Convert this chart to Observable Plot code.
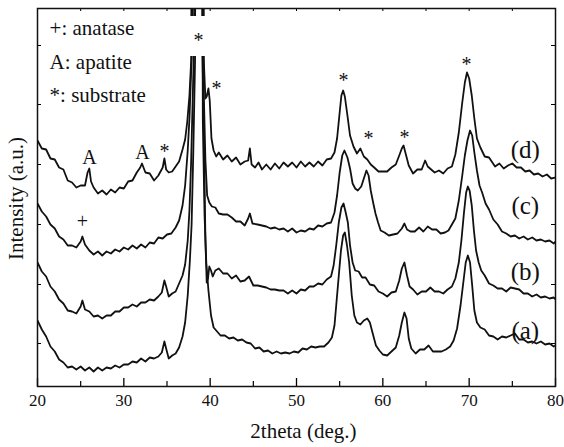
<!DOCTYPE html>
<html><head><meta charset="utf-8">
<script src="https://cdn.jsdelivr.net/npm/d3@7"></script>
<script src="https://cdn.jsdelivr.net/npm/@observablehq/plot@0.6"></script>
<style>
body{margin:0;background:#fff}
#chart svg, #chart svg text{font-family:"Liberation Serif","Times New Roman",serif !important;}
</style>
</head><body><div id="chart"></div>
<script>
// 2theta (deg.) vs intensity (a.u., stacked offsets as drawn)
const traceD = [[20,246],[20.5,238],[21,237],[21.5,228],[22,227],[22.5,219],[23,217],[23.5,206],[24,204],[24.5,199],[25,201],[25.5,201],[25.8,214],[26,218],[26.2,205],[26.5,199],[27,193],[27.5,196],[28,192],[28.5,197],[29,194],[29.5,199],[30,198],[30.5,205],[31,206],[31.5,214],[31.9,219],[32.1,223],[32.5,214],[33,213],[33.5,206],[34,211],[34.5,219],[34.7,228],[34.9,217],[35.2,214],[35.6,215],[36,220],[36.4,225],[36.8,237],[37.1,247],[37.35,265],[37.6,291],[37.8,326],[38.6,2500],[39.25,328],[39.45,288],[39.6,290],[39.8,298],[39.95,286],[40.15,248],[40.4,236],[40.7,230],[41,234],[41.5,227],[42,231],[42.5,225],[43,229],[43.5,222],[44,225],[44.4,226],[44.6,238],[44.8,222],[45.2,219],[45.6,224],[46,217],[46.5,222],[47,217],[47.5,223],[48,218],[48.5,224],[49,220],[49.5,224],[50,219],[50.5,225],[51,220],[51.5,224],[52,220],[52.5,225],[53,221],[53.5,227],[54,228],[54.4,234],[54.7,248],[55,274],[55.2,291],[55.4,296],[55.6,290],[55.9,271],[56.2,251],[56.6,240],[57,233],[57.4,238],[57.8,230],[58.2,227],[58.6,222],[59,219],[59.5,215],[60,215],[60.5,215],[61,219],[61.5,222],[61.9,231],[62.2,238],[62.4,241],[62.7,231],[63,221],[63.5,213],[64,217],[64.5,217],[64.9,226],[65.2,220],[65.6,217],[66,214],[66.5,216],[67,213],[67.5,218],[68,220],[68.4,232],[68.8,254],[69.2,284],[69.5,304],[69.75,314],[70,308],[70.3,291],[70.6,268],[70.9,248],[71.3,239],[71.8,230],[72.3,229],[73,220],[73.5,223],[74,218],[74.5,221],[75,223],[75.5,219],[76,219],[76.5,215],[77,216],[77.5,212],[78,213],[78.5,210],[79,212],[79.5,208],[80,209]];
const traceC = [[20,183],[20.5,175],[21,170],[21.5,162],[22,158],[22.5,150],[23,147],[23.5,141],[24,141],[24.5,139],[25,145],[25.2,150],[25.5,142],[26,136],[26.5,132],[27,135],[27.5,131],[28,135],[28.5,133],[29,137],[29.5,135],[30,139],[30.5,137],[31,141],[31.5,138],[32,142],[32.5,139],[33,144],[33.5,143],[34,149],[34.5,148],[35,152],[35.5,153],[36,159],[36.4,166],[36.8,181],[37.1,201],[37.4,236],[37.6,268],[37.8,316],[37.95,346],[38.6,2400],[39.25,296],[39.45,226],[39.65,191],[39.9,184],[40.2,180],[40.6,179],[41,173],[41.5,172],[42,172],[42.5,169],[43,165],[43.5,165],[44,161],[44.4,168],[44.6,173],[44.9,163],[45.5,162],[46,161],[46.5,160],[47,158],[47.5,159],[48,157],[48.5,158],[49,155],[49.5,158],[50,154],[50.5,156],[51,155],[51.5,158],[52,157],[52.5,161],[53,160],[53.5,163],[54,164],[54.4,174],[54.7,191],[55,214],[55.3,231],[55.55,236],[55.9,229],[56.2,218],[56.5,203],[56.8,198],[57.1,196],[57.5,200],[57.8,208],[58.1,216],[58.35,211],[58.6,196],[58.9,183],[59.15,173],[59.45,164],[59.75,156],[60.2,154],[60.7,151],[61.2,152],[61.7,153],[62.2,158],[62.5,163],[62.8,157],[63.2,155],[63.7,155],[64.2,159],[64.7,155],[65.2,160],[65.7,157],[66.2,157],[66.7,153],[67.2,154],[67.6,156],[68,162],[68.4,168],[68.8,186],[69.2,211],[69.5,231],[69.8,246],[70.1,256],[70.35,251],[70.6,234],[70.9,216],[71.2,201],[71.5,194],[71.9,183],[72.3,177],[72.8,167],[73.3,162],[73.8,155],[74.3,153],[74.8,150],[75.3,151],[75.8,148],[76.3,150],[76.8,147],[77.3,149],[77.8,146],[78.3,147],[78.8,145],[79.3,146],[79.8,143],[80,145]];
const traceB = [[20,124],[20.5,115],[21,110],[21.5,100],[22,95],[22.5,87],[23,83],[23.5,76],[24,75],[24.5,73],[25,80],[25.2,86],[25.5,77],[26,75],[26.5,70],[27,71],[27.5,68],[28,71],[28.5,71],[29,75],[29.5,75],[30,79],[30.5,79],[31,82],[31.5,80],[32,84],[32.5,84],[33,87],[33.5,86],[34,90],[34.4,94],[34.7,106],[34.9,100],[35.2,90],[35.6,93],[36,95],[36.4,103],[36.8,111],[37.1,122],[37.4,146],[37.6,176],[37.8,226],[38,296],[38.15,346],[38.6,2300],[39.1,336],[39.3,236],[39.45,146],[39.6,104],[39.75,108],[39.9,120],[40.1,116],[40.3,110],[40.6,116],[41,118],[41.5,113],[42,113],[42.5,108],[43,111],[43.5,105],[44,106],[44.5,110],[45,101],[45.5,101],[46,100],[46.5,99],[47,97],[47.5,97],[48,96],[48.5,96],[49,93],[49.5,96],[50,93],[50.5,97],[51,96],[51.5,100],[52,100],[52.5,103],[53,102],[53.5,107],[54,110],[54.3,121],[54.6,141],[54.9,164],[55.2,179],[55.45,183],[55.7,174],[55.95,164],[56.2,141],[56.5,124],[56.8,116],[57.2,115],[57.6,109],[58,109],[58.5,102],[59,101],[59.5,95],[60,93],[60.5,90],[61,94],[61.5,95],[61.9,106],[62.2,118],[62.5,124],[62.8,111],[63.1,100],[63.5,97],[64,92],[64.5,95],[65,95],[65.5,99],[66,95],[66.5,95],[67,93],[67.5,97],[68,100],[68.4,108],[68.8,124],[69.1,146],[69.4,174],[69.65,194],[69.85,200],[70.05,196],[70.3,181],[70.55,156],[70.8,136],[71.1,124],[71.4,116],[71.8,111],[72.3,103],[72.8,101],[73.3,98],[73.8,98],[74.3,95],[74.8,99],[75.3,98],[75.8,97],[76.3,93],[76.8,93],[77.3,90],[77.8,92],[78.3,89],[78.8,90],[79.3,88],[79.8,89],[80,87]];
const traceA = [[20,66],[20.5,57],[21,50],[21.5,40],[22,35],[22.5,27],[23,24],[23.5,19],[24,20],[24.5,17],[25,20],[25.5,16],[26,19],[26.5,15],[27,19],[27.5,16],[28,19],[28.5,18],[29,21],[29.5,19],[30,22],[30.5,22],[31,25],[31.5,24],[32,28],[32.5,25],[33,29],[33.5,28],[34,30],[34.4,34],[34.7,45],[34.9,38],[35.2,28],[35.6,31],[36,33],[36.4,39],[36.8,50],[37.1,64],[37.4,91],[37.65,126],[37.85,162],[38.05,236],[38.25,326],[38.6,2200],[39.15,266],[39.35,171],[39.55,124],[39.8,96],[40.1,71],[40.4,59],[40.8,55],[41.2,51],[41.7,51],[42.2,48],[42.7,49],[43.2,46],[43.7,47],[44.2,44],[44.7,43],[45.2,38],[45.7,39],[46.2,35],[46.7,36],[47.2,33],[47.7,35],[48.2,33],[48.7,34],[49.2,33],[49.7,35],[50.2,34],[50.7,38],[51.2,37],[51.7,40],[52.2,39],[52.7,40],[53.2,40],[53.7,44],[54.1,49],[54.4,61],[54.65,86],[54.9,111],[55.15,136],[55.4,151],[55.6,154],[55.85,141],[56.1,124],[56.4,91],[56.7,71],[57,64],[57.4,62],[57.8,66],[58.2,68],[58.5,64],[58.8,54],[59.2,41],[59.6,36],[60,32],[60.5,31],[61,35],[61.5,39],[61.9,51],[62.2,64],[62.5,74],[62.75,68],[63,48],[63.3,38],[63.8,33],[64.3,37],[64.8,37],[65.3,41],[65.8,35],[66.3,35],[66.8,35],[67.3,37],[67.8,40],[68.2,46],[68.6,58],[69,81],[69.35,106],[69.6,124],[69.85,131],[70.1,124],[70.35,101],[70.6,76],[70.9,64],[71.3,59],[71.8,57],[72.3,51],[72.8,50],[73.3,47],[73.8,50],[74.3,49],[74.8,51],[75.3,53],[75.8,47],[76.3,47],[76.8,44],[77.3,45],[77.8,43],[78.3,45],[78.8,42],[79.3,43],[79.8,40],[80,41]];

const seriesNames = ["(a)","(b)","(c)","(d)"];
const seriesData = [traceA, traceB, traceC, traceD];
const seriesLabelY = [56, 115, 181, 237];
const seriesLabelX = 76.5;

const xMajor = [20,30,40,50,60,70,80];
const xMinor = [25,35,45,55,65,75];
const yTicks = [43,102,162,222,282,341];

const legendLines = ["+: anatase","A: apatite","*: substrate"];
const legendY = [358, 324, 291];
const legendX = 21.4;

const peakText = ["*","*","A","A","*","+","*","*","*","*"];
const peakX = [38.65,40.73,26.02,32.16,34.71,25.21,55.45,58.34,62.51,69.69];
const peakY = [346,298,229,234,235,165,306,248,249,322];

const maskBox = [{x1:37.6, x2:39.5, y1:330, y2:370}];

const rows = seriesData.flatMap((t,i) => t.map(([x,y]) => ({s: seriesNames[i], x, y})));
const seriesLabels = seriesNames.map((n,i) => ({t:n, x:seriesLabelX, y:seriesLabelY[i]}));
const legend = legendLines.map((t,i) => ({t, x:legendX, y:legendY[i]}));
const peaks = peakText.map((t,i) => ({t, x:peakX[i], y:peakY[i]}));

const chart = Plot.plot({
  width: 564, height: 447,
  marginLeft: 37, marginRight: 9, marginTop: 8, marginBottom: 61,
  x: {domain: [20, 80], axis: null},
  y: {domain: [0, 378], axis: null},
  style: {background: "white", color: "black"},
  marks: [
    Plot.line(rows, {x: "x", y: "y", z: "s", stroke: "#111", strokeWidth: 1.8, strokeLinejoin: "round", clip: true}),
    Plot.rect(maskBox, {x1: "x1", x2: "x2", y1: "y1", y2: "y2", fill: "white"}),
    Plot.text(peaks, {x: "x", y: "y", text: "t", fontSize: 20, fill: "#111"}),
    Plot.text(legend, {x: "x", y: "y", text: "t", textAnchor: "start", fontSize: 21, fill: "#111"}),
    Plot.text(seriesLabels, {x: "x", y: "y", text: "t", fontSize: 25, fill: "#111"}),
    Plot.tickX(xMajor, {x: d => d, insetTop: 370, strokeWidth: 1.3}),
    Plot.tickX(xMinor, {x: d => d, insetTop: 373, strokeWidth: 1.2}),
    Plot.tickX([...xMajor, ...xMinor], {x: d => d, insetBottom: 375}),
    Plot.tickY(yTicks, {y: d => d, insetRight: 514}),
    Plot.tickY(yTicks, {y: d => d, insetLeft: 514}),
    Plot.text(xMajor, {x: d => d, text: d => String(d), frameAnchor: "bottom", dy: 19, fontSize: 17, fill: "#111"}),
    Plot.text(["2theta (deg.)"], {x: 50.8, text: d => d, frameAnchor: "bottom", dy: 51, fontSize: 21, fill: "#111"}),
    Plot.text(["Intensity (a.u.)"], {text: d => d, frameAnchor: "left", textAnchor: "middle", dx: -21, dy: 1, rotate: -90, fontSize: 21, fill: "#111"}),
    Plot.frame({stroke: "#111", strokeWidth: 1.5})
  ]
});
document.getElementById("chart").appendChild(chart);
</script>
</body></html>
